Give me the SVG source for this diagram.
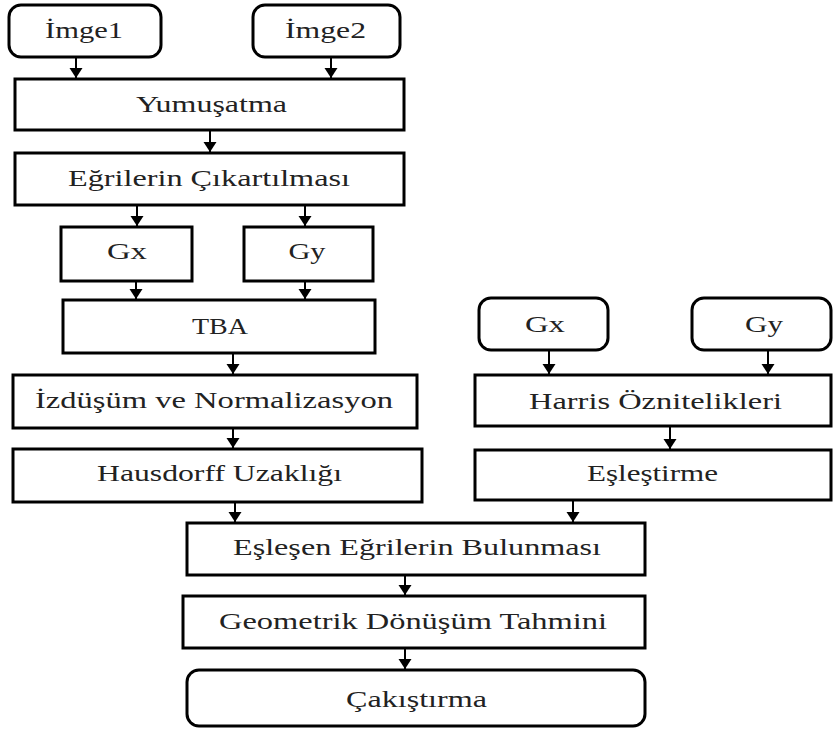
<svg xmlns="http://www.w3.org/2000/svg" width="833" height="731" viewBox="0 0 833 731">
<style>
.box{fill:#fff;stroke:#000;stroke-width:3}
.lbl{font-family:"Liberation Serif",serif;font-size:23px;fill:#222;text-anchor:middle}
.con line{stroke:#000;stroke-width:2}
</style>
<defs>
<marker id="ah" markerUnits="userSpaceOnUse" markerWidth="12" markerHeight="14" refX="10" refY="7" orient="auto" viewBox="0 0 12 14">
<path d="M0,0.5 L10,7 L0,13.5 Z" fill="#000"/>
</marker>
</defs>
<rect width="833" height="731" fill="#fff"/>
<g id="imge1"><rect class="box" x="9" y="5" width="152" height="52" rx="12"/><text class="lbl" x="84" y="38" textLength="78" lengthAdjust="spacingAndGlyphs">İmge1</text></g>
<g id="imge2"><rect class="box" x="253" y="5" width="147" height="52" rx="12"/><text class="lbl" x="325.5" y="38" textLength="81" lengthAdjust="spacingAndGlyphs">İmge2</text></g>
<g id="yumusatma"><rect class="box" x="15" y="79" width="389" height="51"/><text class="lbl" x="211.5" y="112" textLength="151" lengthAdjust="spacingAndGlyphs">Yumuşatma</text></g>
<g id="egriler"><rect class="box" x="15" y="153" width="389" height="52"/><text class="lbl" x="209" y="186" textLength="282" lengthAdjust="spacingAndGlyphs">Eğrilerin Çıkartılması</text></g>
<g id="gx1"><rect class="box" x="61" y="227" width="131" height="54"/><text class="lbl" x="127" y="259" textLength="40" lengthAdjust="spacingAndGlyphs">Gx</text></g>
<g id="gy1"><rect class="box" x="244" y="227" width="129" height="54"/><text class="lbl" x="307" y="259" textLength="37" lengthAdjust="spacingAndGlyphs">Gy</text></g>
<g id="tba"><rect class="box" x="63" y="300" width="312" height="53"/><text class="lbl" x="220" y="334" textLength="56" lengthAdjust="spacingAndGlyphs">TBA</text></g>
<g id="izdusum"><rect class="box" x="13" y="375" width="404" height="53"/><text class="lbl" x="214" y="408" textLength="358" lengthAdjust="spacingAndGlyphs">İzdüşüm ve Normalizasyon</text></g>
<g id="hausdorff"><rect class="box" x="13" y="449" width="409" height="53"/><text class="lbl" x="219.5" y="481" textLength="245" lengthAdjust="spacingAndGlyphs">Hausdorff Uzaklığı</text></g>
<g id="gx2"><rect class="box" x="479" y="298" width="129" height="52" rx="12"/><text class="lbl" x="545" y="332" textLength="40" lengthAdjust="spacingAndGlyphs">Gx</text></g>
<g id="gy2"><rect class="box" x="692" y="298" width="139" height="52" rx="12"/><text class="lbl" x="764" y="332" textLength="38" lengthAdjust="spacingAndGlyphs">Gy</text></g>
<g id="harris"><rect class="box" x="475" y="375" width="356" height="51"/><text class="lbl" x="655.5" y="409" textLength="253" lengthAdjust="spacingAndGlyphs">Harris Öznitelikleri</text></g>
<g id="eslestirme"><rect class="box" x="475" y="450" width="356" height="50"/><text class="lbl" x="652.5" y="481" textLength="131" lengthAdjust="spacingAndGlyphs">Eşleştirme</text></g>
<g id="eslesen"><rect class="box" x="187" y="523" width="458" height="52"/><text class="lbl" x="417" y="555" textLength="368" lengthAdjust="spacingAndGlyphs">Eşleşen Eğrilerin Bulunması</text></g>
<g id="geometrik"><rect class="box" x="183" y="596" width="462" height="52"/><text class="lbl" x="413" y="629" textLength="388" lengthAdjust="spacingAndGlyphs">Geometrik Dönüşüm Tahmini</text></g>
<g id="cakistirma"><rect class="box" x="187" y="670" width="458" height="56" rx="12"/><text class="lbl" x="416.5" y="707" textLength="141" lengthAdjust="spacingAndGlyphs">Çakıştırma</text></g>
<g id="connectors" class="con">
<line x1="76" y1="58" x2="76" y2="78" marker-end="url(#ah)"/>
<line x1="331" y1="58" x2="331" y2="78" marker-end="url(#ah)"/>
<line x1="210" y1="131" x2="210" y2="152" marker-end="url(#ah)"/>
<line x1="137" y1="206" x2="137" y2="226" marker-end="url(#ah)"/>
<line x1="305" y1="206" x2="305" y2="226" marker-end="url(#ah)"/>
<line x1="136" y1="282" x2="136" y2="299" marker-end="url(#ah)"/>
<line x1="305" y1="282" x2="305" y2="299" marker-end="url(#ah)"/>
<line x1="233" y1="354" x2="233" y2="374" marker-end="url(#ah)"/>
<line x1="233" y1="429" x2="233" y2="448" marker-end="url(#ah)"/>
<line x1="549" y1="351" x2="549" y2="374" marker-end="url(#ah)"/>
<line x1="768" y1="351" x2="768" y2="374" marker-end="url(#ah)"/>
<line x1="670" y1="427" x2="670" y2="449" marker-end="url(#ah)"/>
<line x1="235" y1="503" x2="235" y2="522" marker-end="url(#ah)"/>
<line x1="573" y1="501" x2="573" y2="522" marker-end="url(#ah)"/>
<line x1="405" y1="576" x2="405" y2="595" marker-end="url(#ah)"/>
<line x1="405" y1="649" x2="405" y2="669" marker-end="url(#ah)"/>
</g>
</svg>
